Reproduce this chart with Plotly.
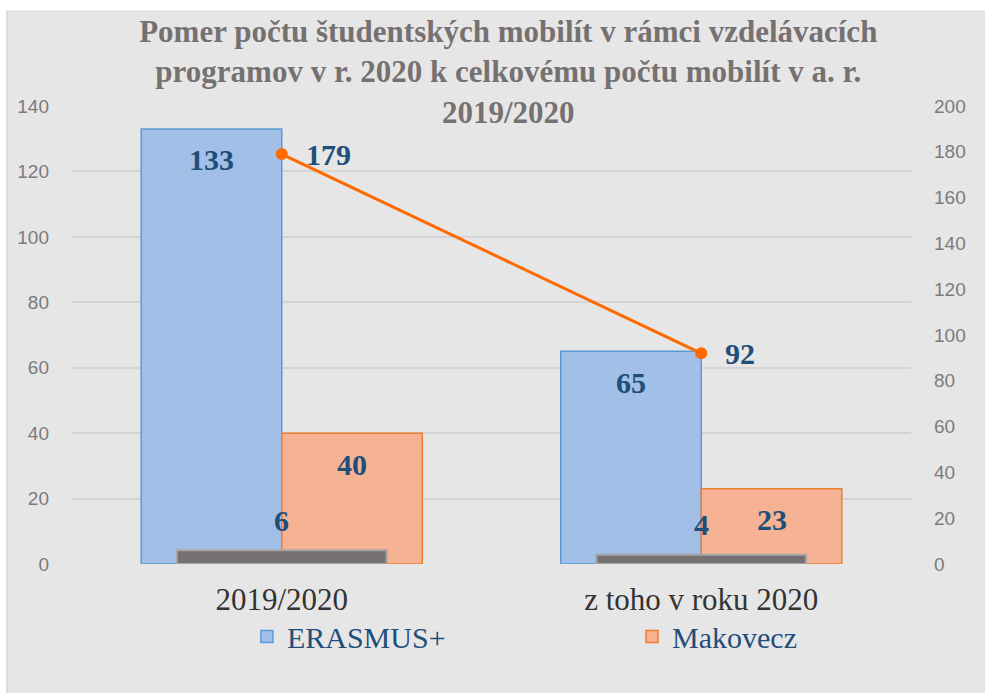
import plotly.graph_objects as go

categories = ["2019/2020", "z toho v roku 2020"]
erasmus = [133, 65]
makovecz = [40, 23]
other = [6, 4]
total = [179, 92]

serif = "Liberation Serif, Times New Roman, serif"
sans = "Liberation Sans, Arial, sans-serif"
label_color = "#1f4e79"

fig = go.Figure()
fig.add_trace(go.Bar(
    x=categories, y=erasmus, name="ERASMUS+", legend="legend",
    width=[0.335] * 2, offset=[-0.335] * 2,
    marker=dict(color="#a2c0e7", line=dict(color="#5b9bd5", width=1.5)),
))
fig.add_trace(go.Bar(
    x=categories, y=makovecz, name="Makovecz", legend="legend2",
    width=[0.335] * 2, offset=[0.0] * 2,
    marker=dict(color="#f6b394", line=dict(color="#ed7d31", width=1.5)),
))
fig.add_trace(go.Bar(
    x=categories, y=other, name="ostatné", yaxis="y2", showlegend=False,
    width=[0.5] * 2, offset=[-0.25] * 2,
    marker=dict(color="#767171", line=dict(color="#a5a5a5", width=2)),
))
fig.add_trace(go.Scatter(
    x=categories, y=total, name="spolu", yaxis="y2", showlegend=False,
    mode="lines+markers",
    line=dict(color="#ff6a00", width=3),
    marker=dict(color="#ff6a00", size=12),
))

lab_font = dict(family=serif, size=30, color=label_color, weight="bold")
annotations = []
for i, v in enumerate(erasmus):
    annotations.append(dict(x=i - 0.1675, y=v, xref="x", yref="y", text=str(v),
                            showarrow=False, yanchor="middle", yshift=-31, font=lab_font))
for i, v in enumerate(makovecz):
    annotations.append(dict(x=i + 0.1675, y=v, xref="x", yref="y", text=str(v),
                            showarrow=False, yanchor="middle", yshift=-31, font=lab_font))
for i, v in enumerate(other):
    annotations.append(dict(x=i, y=v, xref="x", yref="y2", text=str(v),
                            showarrow=False, yanchor="middle", yshift=30, font=lab_font))
for i, v in enumerate(total):
    annotations.append(dict(x=i, y=v, xref="x", yref="y2", text=str(v),
                            showarrow=False, xanchor="left", yanchor="middle", xshift=22,
                            font=lab_font))

leg_font = dict(family=serif, size=30, color=label_color)

fig.update_layout(
    width=985, height=693,
    margin=dict(l=72, r=74, t=106, b=129),
    paper_bgcolor="#e7e6e6",
    plot_bgcolor="rgba(0,0,0,0)",
    barmode="overlay",
    title=dict(
        text="Pomer počtu študentských mobilít v rámci vzdelávacích<br>programov v r. 2020 k celkovému počtu mobilít v a. r.<br>2019/2020",
        font=dict(family=serif, size=31, color="#767171", weight="bold"),
        x=0.52, xref="paper", xanchor="center",
        y=0.9395, yref="container", yanchor="top",
    ),
    xaxis=dict(
        showgrid=False, zeroline=False, showline=False,
        tickfont=dict(family=serif, size=31, color="#333333"),
        ticks="", ticklabelstandoff=14,
    ),
    yaxis=dict(
        range=[0, 140], dtick=20, showgrid=True, gridcolor="#d4d4d4", gridwidth=1.5,
        zeroline=False, showline=False,
        tickfont=dict(family=sans, size=19, color="#7b7b7b"),
        ticks="", ticklabelstandoff=22,
    ),
    yaxis2=dict(
        range=[0, 200], dtick=20, overlaying="y", side="right", showgrid=False,
        zeroline=False, showline=False,
        tickfont=dict(family=sans, size=19, color="#7b7b7b"),
        ticks="", ticklabelstandoff=22,
    ),
    legend=dict(
        orientation="h", x=0.2085, xanchor="left", y=-0.1013, yanchor="top",
        font=leg_font, bgcolor="rgba(0,0,0,0)",
    ),
    legend2=dict(
        orientation="h", x=0.6675, xanchor="left", y=-0.1013, yanchor="top",
        font=leg_font, bgcolor="rgba(0,0,0,0)",
    ),
    annotations=annotations,
    shapes=[
        dict(type="rect", xref="paper", yref="paper", layer="below",
             x0=-0.0775, x1=1.2, y0=-0.5, y1=1.2074,
             fillcolor="rgba(0,0,0,0)", line=dict(color="#d9d9d9", width=1.5)),
        dict(type="rect", xref="paper", yref="paper", layer="below",
             x0=-0.2, x1=1.2, y0=1.2085, y1=1.3,
             fillcolor="white", line=dict(width=0)),
        dict(type="rect", xref="paper", yref="paper", layer="below",
             x0=-0.2, x1=-0.0787, y0=-0.5, y1=1.3,
             fillcolor="white", line=dict(width=0)),
    ],
)

fig.write_html(
    "out.html",
    config={"displayModeBar": False},
    post_script="document.body.style.margin='0';document.body.style.overflow='hidden';",
)
